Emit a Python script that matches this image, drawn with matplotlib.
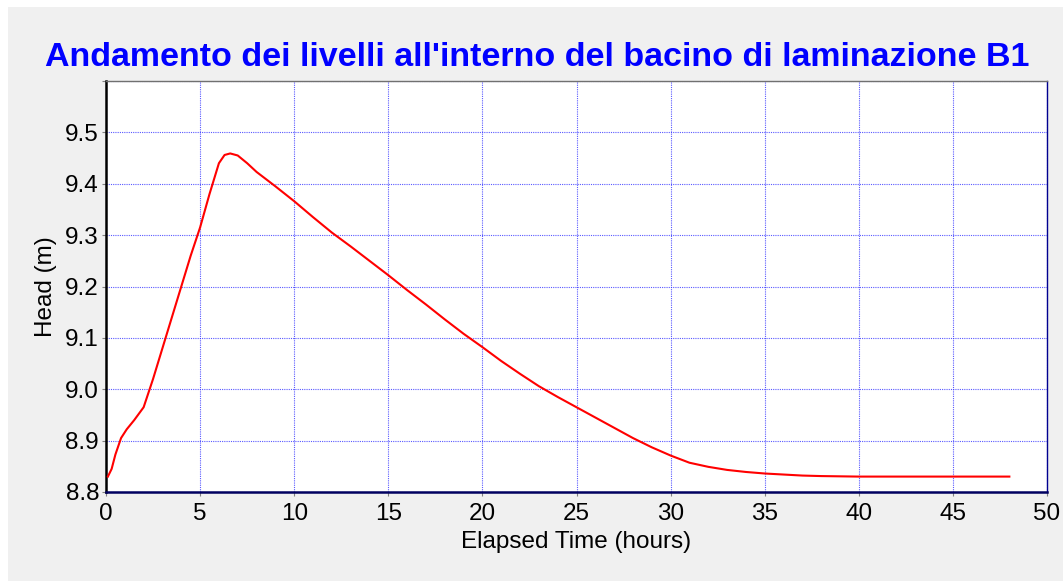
import matplotlib.pyplot as plt
from matplotlib.patches import Rectangle

# ============================================================
# DATI
# ============================================================

tempo_ore = [0.1, 0.3, 0.5, 0.8, 1.1, 1.5, 2.0, 2.5, 3.0, 3.5, 4.0, 4.5,
             5.0, 5.5, 6.0, 6.3, 6.6, 7.0, 7.5, 8.0, 9.0, 10, 11, 12, 13,
             14, 15, 16, 17, 18, 19, 20, 21, 22, 23, 24, 25, 26, 27, 28,
             29, 30, 31, 32, 33, 34, 35, 36, 37, 38, 40, 44, 48]

livello_m = [8.830, 8.845, 8.873, 8.905, 8.922, 8.940, 8.965, 9.020, 9.080,
             9.140, 9.200, 9.260, 9.315, 9.380, 9.440, 9.456, 9.459, 9.455,
             9.440, 9.423, 9.395, 9.366, 9.335, 9.305, 9.278, 9.250, 9.222,
             9.193, 9.165, 9.136, 9.108, 9.082, 9.055, 9.030, 9.006, 8.985,
             8.965, 8.945, 8.925, 8.905, 8.887, 8.871, 8.857, 8.849, 8.843,
             8.839, 8.836, 8.834, 8.832, 8.831, 8.830, 8.830, 8.830]

x_ticks = [0, 5, 10, 15, 20, 25, 30, 35, 40, 45, 50]
y_ticks = [8.8, 8.9, 9.0, 9.1, 9.2, 9.3, 9.4, 9.5, 9.6]
y_tick_labels = ["8.8", "8.9", "9.0", "9.1", "9.2", "9.3", "9.4", "9.5", ""]

titolo = "Andamento dei livelli all'interno del bacino di laminazione B1"

# ============================================================
# GRAFICO
# ============================================================

plt.rcParams["font.family"] = ["Liberation Sans", "DejaVu Sans"]

fig = plt.figure(figsize=(10.63, 5.81), dpi=100)
fig.patch.set_facecolor("#f0f0f0")

# bordo bianco in alto e a sinistra
fig.patches.append(Rectangle((0, 1 - 7 / 581), 1, 7 / 581,
                             transform=fig.transFigure,
                             facecolor="white", edgecolor="none"))
fig.patches.append(Rectangle((0, 0), 8 / 1063, 1,
                             transform=fig.transFigure,
                             facecolor="white", edgecolor="none"))

ax = fig.add_axes([106 / 1063, 1 - 492 / 581,
                   (1047 - 106) / 1063, (492 - 81) / 581])
ax.set_facecolor("white")

ax.plot(tempo_ore, livello_m, color="red", linewidth=1.5, zorder=3)

ax.set_xlim(0, 50)
ax.set_ylim(8.8, 9.6)
ax.set_xticks(x_ticks)
ax.set_yticks(y_ticks)
ax.set_yticklabels(y_tick_labels)

ax.grid(True, color="#3030ff", linestyle=(0, (1, 1)), linewidth=0.8,
        alpha=0.8)
ax.set_axisbelow(True)

ax.tick_params(axis="both", labelsize=17.5, length=3, color="gray")
ax.tick_params(axis="x", pad=5)
ax.tick_params(axis="y", pad=2)

ax.spines["left"].set_color("black")
ax.spines["left"].set_linewidth(1.8)
ax.spines["bottom"].set_color("#000060")
ax.spines["bottom"].set_linewidth(1.8)
ax.spines["top"].set_color("#707070")
ax.spines["top"].set_linewidth(1.0)
ax.spines["right"].set_color("#000090")
ax.spines["right"].set_linewidth(1.0)

ax.set_xlabel("Elapsed Time (hours)", fontsize=17.5, labelpad=4)
ax.set_ylabel("Head (m)", fontsize=17.5, labelpad=6)

fig.text(537 / 1063, 1 - 57 / 581, titolo, ha="center", va="center",
         fontsize=24.5, fontweight="bold", color="#0000ff")

fig.savefig("out.png", dpi=100, facecolor=fig.get_facecolor())
